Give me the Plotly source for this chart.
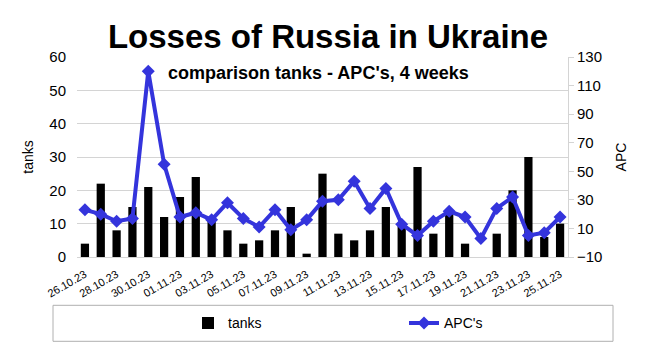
import plotly.graph_objects as go

dates = ["26.10.23", "27.10.23", "28.10.23", "29.10.23", "30.10.23", "31.10.23",
         "01.11.23", "02.11.23", "03.11.23", "04.11.23", "05.11.23", "06.11.23",
         "07.11.23", "08.11.23", "09.11.23", "10.11.23", "11.11.23", "12.11.23",
         "13.11.23", "14.11.23", "15.11.23", "16.11.23", "17.11.23", "18.11.23",
         "19.11.23", "20.11.23", "21.11.23", "22.11.23", "23.11.23", "24.11.23",
         "25.11.23"]
tanks = [4, 22, 8, 15, 21, 12, 18, 24, 11, 8, 4, 5, 8, 15, 1, 25, 7, 5,
         8, 15, 10, 27, 7, 13, 4, 0, 7, 20, 30, 6, 10]
apcs = [23, 20, 15, 17, 120, 55, 18, 21, 16, 28, 17, 11, 23, 9, 16, 29, 30, 43,
        24, 38, 13, 5, 15, 22, 18, 3, 24, 32, 5, 7, 18]
tick_labels = dates[::2]

FONT = "Liberation Sans, Arial, sans-serif"
GRID = "#d4d4d4"
BLUE = "#3434dc"

fig = go.Figure()
fig.add_trace(go.Bar(x=dates, y=tanks, name="tanks", marker_color="black",
                     marker_line_width=0, legend="legend", yaxis="y",
                     showlegend=True))
fig.add_trace(go.Scatter(x=dates, y=apcs, name="APC's", mode="lines+markers",
                         line=dict(color=BLUE, width=4),
                         marker=dict(symbol="diamond", size=10, color=BLUE),
                         legend="legend2", yaxis="y2", showlegend=True))

fig.update_layout(
    width=656, height=351,
    margin=dict(l=77, r=88, t=57, b=94),
    paper_bgcolor="white", plot_bgcolor="white",
    font=dict(family=FONT, color="black", size=14),
    bargap=0.48,
    showlegend=True,
    title=dict(text="Losses of Russia in Ukraine", x=0.5, xanchor="center",
               y=1 - 36 / 351, yanchor="middle",
               font=dict(size=33, family=FONT, weight="bold")),
    xaxis=dict(type="category", range=[-0.5, len(dates) - 0.5],
               tickmode="array", tickvals=tick_labels,
               ticktext=tick_labels, tickangle=-30, tickfont=dict(size=11),
               ticklabelstandoff=6,
               showgrid=False, showline=True, linecolor=GRID, ticks=""),
    yaxis=dict(range=[0, 60], dtick=10, showgrid=True, gridcolor=GRID,
               zeroline=False, showline=False, ticks="", ticklabelstandoff=10,
               tickfont=dict(size=15),
               title=dict(text="tanks", font=dict(size=14), standoff=12)),
    yaxis2=dict(range=[-10, 130], dtick=20, tick0=-10, overlaying="y", side="right",
                showgrid=False, zeroline=False, showline=True, linecolor=GRID,
                ticks="outside", ticklen=5, tickcolor=GRID,
                tickfont=dict(size=15),
                title=dict(text="APC", font=dict(size=14), standoff=14)),
    legend=dict(x=(188 - 77) / 491, xanchor="left", y=-0.3315, yanchor="middle",
                orientation="h", bgcolor="white", font=dict(size=14), visible=True),
    legend2=dict(x=(404 - 77) / 491, xanchor="left", y=-0.3315, yanchor="middle",
                 orientation="h", bgcolor="white", font=dict(size=14), visible=True),
    shapes=[dict(type="rect", xref="paper", yref="paper",
                 x0=(53 - 77) / 491, x1=(613 - 77) / 491,
                 y0=(256.7 - 341) / 200, y1=(256.7 - 305) / 200,
                 line=dict(color="#b0b0b0", width=1), fillcolor="white")],
    annotations=[dict(text="comparison tanks - APC's, 4 weeks", xref="paper", yref="paper",
                      x=(318 - 77) / 491, y=(256.7 - 73) / 200, xanchor="center",
                      yanchor="middle", showarrow=False,
                      font=dict(size=18, family=FONT, weight="bold"))],
)

fig.write_html("out.html")
